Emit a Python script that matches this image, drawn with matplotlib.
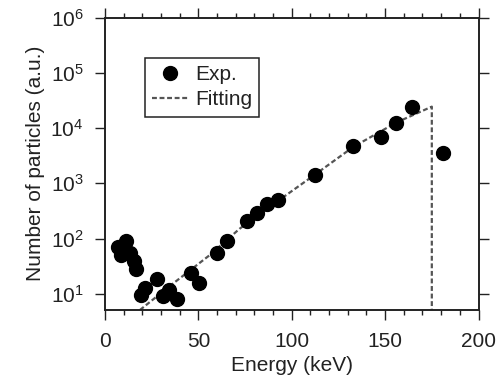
import matplotlib
matplotlib.use('Agg')
import matplotlib.pyplot as plt
from matplotlib.ticker import LogLocator, MultipleLocator, NullLocator

plt.rcParams['font.family'] = ['Liberation Sans', 'DejaVu Sans']
plt.rcParams['mathtext.default'] = 'regular'

## 实验数据
exp_energy = [7.1, 8.4, 11.1, 13.4, 15.5, 16.6, 19.1, 21.4, 27.7, 30.9, 34.5, 38.4,
              46.1, 50.5, 59.8, 65.2, 75.9, 81.3, 87.0, 92.9, 112.5, 133.0, 147.9,
              155.9, 164.3, 180.9]
exp_count = [70, 50, 90, 55, 40, 28, 9.6, 12.7, 18.7, 9, 11.8, 8,
             23.8, 15.6, 55, 92, 206, 293, 415, 491, 1418, 4780, 6760,
             12160, 24400, 3610]
## 拟合曲线 (读图得到的折线点)
fit_energy = [18.7, 35, 56, 72, 93, 112.5, 133, 156, 175, 175]
fit_count = [5.1, 14.1, 50, 150, 490, 1445, 4570, 12600, 24400, 1]

ink = '#222222'
fig = plt.figure(figsize=(5.01, 3.83), dpi=100)
ax = fig.add_axes([0.2096, 0.1906, 0.7455, 0.7636])

ax.plot(exp_energy, exp_count, 'o', color='black', markersize=10, label='Exp.', zorder=3)
ax.plot(fit_energy, fit_count, color='#555555', linestyle=(0, (2.2, 1.2)),
        linewidth=1.6, label='Fitting', zorder=2)

ax.set_yscale('log')
ax.set_xlim(0, 200)
ax.set_ylim(5.1, 1e6)
ax.xaxis.set_major_locator(MultipleLocator(50))
ax.xaxis.set_minor_locator(MultipleLocator(10))
ax.yaxis.set_major_locator(LogLocator(base=10, numticks=10))
ax.yaxis.set_minor_locator(NullLocator())

for s in ax.spines.values():
    s.set_linewidth(1.4)
    s.set_color(ink)
ax.tick_params(which='both', direction='out', top=True, right=True,
               color=ink, labelcolor=ink, labelsize=15, width=1.0)
ax.tick_params(which='major', length=7.5)
ax.tick_params(which='minor', length=3.5)
ax.tick_params(axis='x', which='major', pad=8)
ax.tick_params(axis='y', which='major', pad=8)

ax.set_xlabel('Energy (keV)', fontsize=15, color=ink, labelpad=4)
ax.set_ylabel('Number of particles (a.u.)', fontsize=15, color=ink, labelpad=4)

leg = ax.legend(loc='upper left', bbox_to_anchor=(0.107, 0.862), borderaxespad=0,
                fontsize=15, handlelength=1.7, handletextpad=0.35, fancybox=False,
                framealpha=1, edgecolor=ink, borderpad=0.35, labelspacing=0.3)
leg.get_frame().set_linewidth(1.1)
for t in leg.get_texts():
    t.set_color(ink)

plt.savefig('out.png', dpi=100)
